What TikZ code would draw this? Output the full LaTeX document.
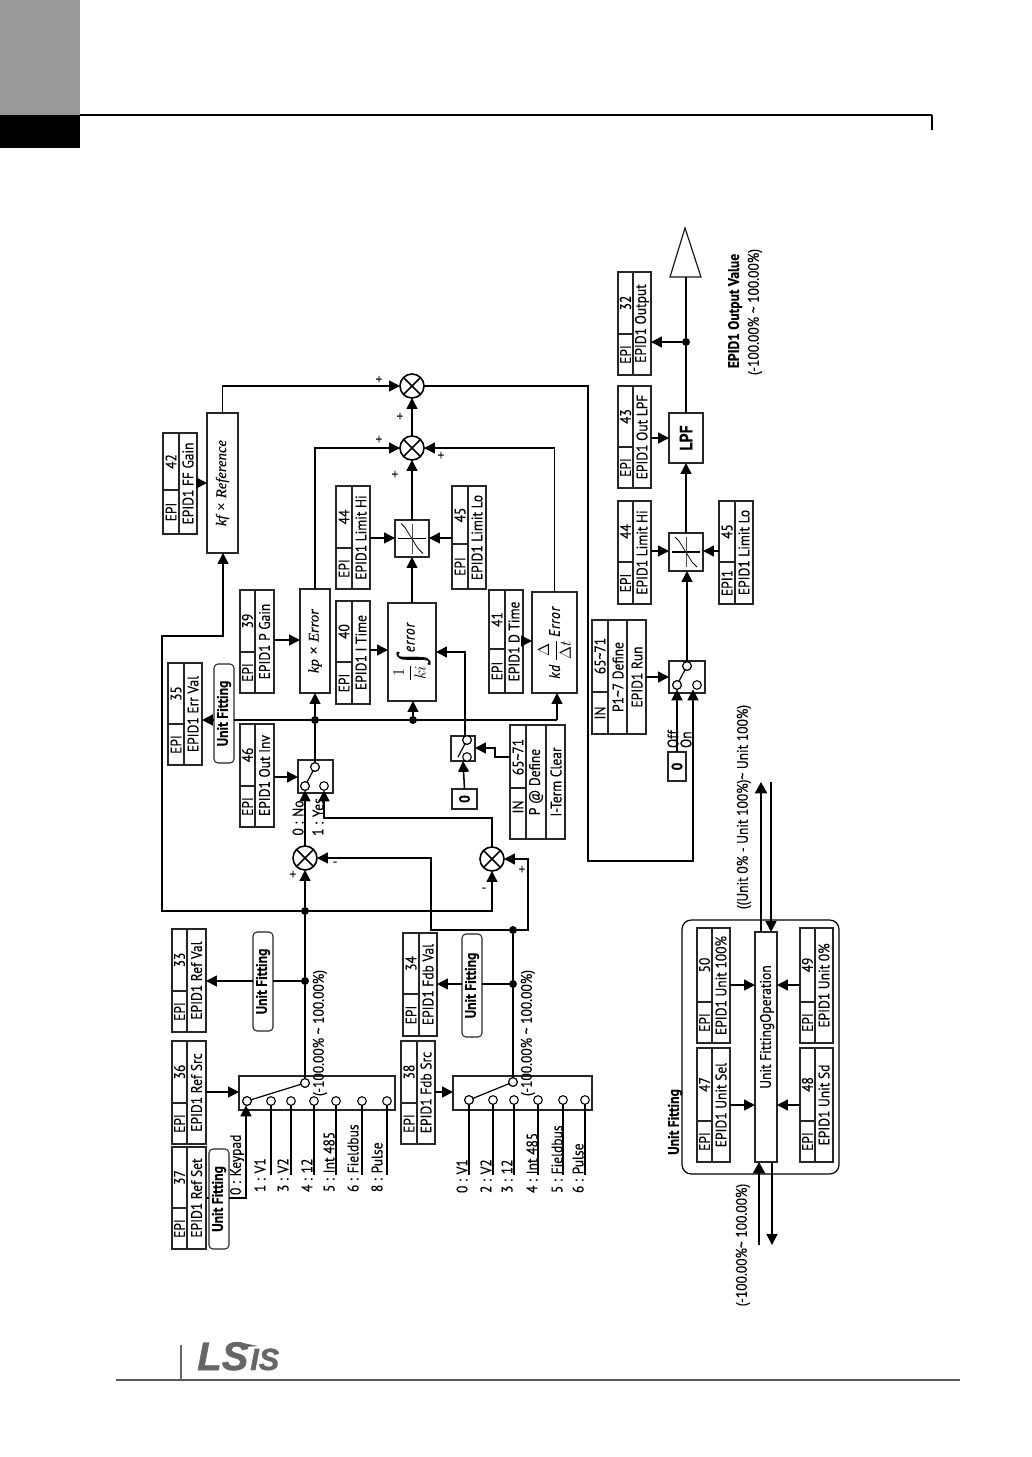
\documentclass[tikz,border=0pt]{standalone}
\usepackage{fontspec}
\usepackage{amsmath}
\usetikzlibrary{arrows.meta,calc}
\setmainfont{PT Sans}[FakeStretch=0.88,FakeBold=0.2]
\newfontfamily\serifit{Liberation Serif}[ItalicFont=* Italic,FakeBold=0.15]
\newfontfamily\logofont{Liberation Sans}[FakeBold=1.2]
\newcommand{\fs}{\fontsize{11.5}{13}\selectfont}
\newcommand{\tl}{\textasciitilde}
\tikzset{
  wire/.style={line width=1.15pt,line join=miter},
  thin wire/.style={line width=0.9pt},
  arr/.style={wire,-{Triangle[length=8.2pt,width=8.2pt]}},
  fat/.style={line width=1.7pt},
  fatarr/.style={fat,-{Triangle[length=8.5pt,width=9pt]}},
  boxline/.style={line width=0.8pt,black!85},
  vtext/.style={rotate=90,inner sep=0pt,outer sep=0pt,font=\fs},
  vbold/.style={vtext,font=\fs\bfseries},
  term/.style={circle,draw,fill=white,line width=0.8pt,minimum size=6.5pt,inner sep=0pt,outer sep=0pt},
  dotn/.style={circle,fill=black,minimum size=6pt,inner sep=0pt,outer sep=0pt},
  summer/.style={circle,draw,fill=white,line width=1.2pt,minimum size=18pt,inner sep=0pt,outer sep=0pt},
  sign/.style={inner sep=0pt,font=\fontsize{11}{11}\selectfont},
  fitbox/.style={boxline,rounded corners=3pt,fill=white},
}
% \rbox[opts]{name}{x0}{y0}{x1}{y1}{text}
\newcommand{\rbox}[7][]{%
  \node[draw,boxline,fill=white,inner sep=0pt,outer sep=0pt,minimum width={(#5-#3)*0.75pt},minimum height={(#6-#4)*0.75pt},#1] (#2) at ({(#3+#5)/2},{(#4+#6)/2}) {};
  \node[vtext] (#2-t) at (#2) {#7};
}
% \epitab{name}{x0}{y0}{x1}{y1}{xm}{yd}{code}{num}{label}
\newcommand{\epitab}[9]{%
  \rbox{#1}{#2}{#3}{#4}{#5}{}%
  \draw[boxline] (#6,#3) -- (#6,#5) (#2,#7) -- (#6,#7);
  \node[vtext] (#1-c) at ({(#2+#6)/2},{(#7+#5)/2}) {#8};
  \node[vtext] (#1-n) at ({(#2+#6)/2},{(#3+#7)/2}) {#9};
  \epilabel{#1}{#6}{#4}{#3}{#5}%
}
\newcommand{\epilabel}[5]{\def\lx{({(#2+#3)/2},{(#4+#5)/2})}\def\lname{#1-l}}
\newcommand{\epitext}[1]{\node[vtext] (\lname) at \lx {#1};}
% \intab{name}{x0}{y0}{x1}{y1}{xa}{xb}{yd}
\newcommand{\intab}[8]{%
  \rbox{#1}{#2}{#3}{#4}{#5}{}%
  \draw[boxline] (#6,#3) -- (#6,#5) (#7,#3) -- (#7,#5) (#2,#8) -- (#6,#8);
}
% \fitbox{name}{x0}{y0}{x1}{y1}
\newcommand{\fitbx}[5]{%
  \node[draw,fitbox,inner sep=0pt,outer sep=0pt,minimum width={(#4-#2)*0.75pt},minimum height={(#5-#3)*0.75pt}] (#1) at ({(#2+#4)/2},{(#3+#5)/2}) {};
  \node[vbold] (#1-t) at (#1) {Unit Fitting};
}
\newcommand{\limiter}[5]{%
  \rbox{#1}{#2}{#3}{#4}{#5}{}%
  \draw[line width=0.8pt] ($(#1)+(-14,0)$) -- ($(#1)+(14,0)$);
  \draw[line width=0.7pt,black!70] ($(#1)+(0,-15)$) -- ($(#1)+(0,15)$);
  \draw[line width=0.55pt] ($(#1)+(-11,-15)$) -- ($(#1)+(-7,-11)$) -- ($(#1)+(6,10)$) -- ($(#1)+(11,15)$);
}
\newcommand{\sumcross}[1]{%
  \draw[line width=1.2pt] (#1.45) -- (#1.225) (#1.135) -- (#1.315);
}
\begin{document}
\begin{tikzpicture}[x=0.75pt,y=-0.75pt]
\useasboundingbox (0,0) rectangle (1032,1457);
\fill[white] (0,0) rectangle (1032,1457);
% page furniture
\fill[black!40] (0,0) rectangle (80,115);
\fill[black] (0,115) rectangle (80,148);
\draw[line width=1.5pt] (80,115) -- (932,115);
\draw[line width=1.1pt] (932,115) -- (932,130);
\draw[line width=0.9pt,black!65] (116,1380) -- (960,1380);
\draw[line width=0.8pt,black!60] (181,1345) -- (181,1380);
\node[inner sep=0pt,anchor=base west,font=\logofont\bfseries\itshape\fontsize{30}{30}\selectfont,text=black!60] (logoa) at (197,1370) {LS};
\node[inner sep=0pt,anchor=base west,font=\logofont\bfseries\itshape\fontsize{23}{23}\selectfont,text=black!60] (logob) at (250,1370) {IS};
\fill[black!60] (238,1342) -- (258,1346) -- (246,1347) -- cycle;

% --- reference selector
\epitab{e33}{172}{929}{206}{1032}{187}{991}{EPI}{33}\epitext{EPID1 Ref Val}
\epitab{e36}{172}{1041}{206}{1144}{187}{1103}{EPI}{36}\epitext{EPID1 Ref Src}
\epitab{e37}{172}{1147}{206}{1249}{187}{1208}{EPI}{37}\epitext{EPID1 Ref Set}
\rbox{sw1}{239}{1076}{395}{1110}{}
\foreach \n/\x in {a/247,b/271,c/291,d/314,e/336,f/362,g/387}{
  \node[term] (t\n) at (\x,1101) {};
}
\foreach \n in {b,c,d,e,f,g}{ \draw[thin wire] (t\n.south) -- (t\n |- 0,1175); }
\node[term] (o1) at (305,1083) {};
\draw[thin wire] (ta) -- (o1);
\node[term] (ta) at (247,1101) {};
\node[term] (o1) at (305,1083) {};
\fitbx{u33}{253}{932}{273}{1031}
\fitbx{u37}{209}{1149}{229}{1249}
\coordinate (c37) at (246,1198);
\draw[wire] (e37.east |- c37) -- (u37.west |- c37);
\draw[arr] (u37.east |- c37) -- (c37) -- (ta.south -| c37);
\node[vtext,anchor=west] (l0) at (237,1195) {0 : Keypad};
\node[vtext,anchor=west] (l1) at (260,1192) {1 : V1};
\node[vtext,anchor=west] (l2) at (283,1192) {3 : V2};
\node[vtext,anchor=west] (l3) at (307,1192) {4 : 12};
\node[vtext,anchor=west] (l4) at (329,1192) {5 : Int 485};
\node[vtext,anchor=west] (l5) at (353,1192) {6 : Fieldbus};
\node[vtext,anchor=west] (l6) at (377,1192) {8 : Pulse};
\node[vtext] (r1) at (320,1033) {(-100.00\% \tl{} 100.00\%)};
\draw[arr] (e36.east |- 0,1092) -- (sw1.west |- 0,1092);
\node[dotn] (d1) at (305,981) {};
\node[dotn] (d2) at (305,911) {};
\draw[wire] (o1.north) -- (d1) -- (d2);
\draw[wire] (d1) -- (d1 -| u33.east);
\draw[arr] (d1 -| u33.west) -- (d1 -| e33.east);

% --- feedback selector
\epitab{e34}{403}{933}{437}{1036}{419}{994}{EPI}{34}\epitext{EPID1 Fdb Val}
\epitab{e38}{401}{1041}{435}{1144}{417}{1103}{EPI}{38}\epitext{EPID1 Fdb Src}
\rbox{sw2}{453}{1076}{592}{1110}{}
\foreach \n/\x in {a/469,b/493,c/514,d/538,e/563,f/585}{
  \node[term] (v\n) at (\x,1100) {};
}
\foreach \n in {a,b,c,d,e,f}{ \draw[thin wire] (v\n.south) -- (v\n |- 0,1175); }
\node[term] (o2) at (513,1082) {};
\draw[thin wire] (va) -- (o2);
\node[term] (va) at (469,1100) {};
\node[term] (o2) at (513,1082) {};
\node[vtext,anchor=west] (m0) at (462,1193) {0 : V1};
\node[vtext,anchor=west] (m1) at (486,1193) {2 : V2};
\node[vtext,anchor=west] (m2) at (507,1193) {3 : 12};
\node[vtext,anchor=west] (m3) at (532,1193) {4 : Int 485};
\node[vtext,anchor=west] (m4) at (557,1193) {5 : Fieldbus};
\node[vtext,anchor=west] (m5) at (578,1193) {6 : Pulse};
\node[vtext] (r2) at (528,1033) {(-100.00\% \tl{} 100.00\%)};
\fitbx{u34}{462}{934}{482}{1037}
\draw[arr] (e38.east |- 0,1092) -- (sw2.west |- 0,1092);
\node[dotn] (d3) at (513,984) {};
\node[dotn] (d4) at (513,930) {};
\draw[wire] (o2.north) -- (d3) -- (d4);
\draw[wire] (d3) -- (d3 -| u34.east);
\draw[arr] (d3 -| u34.west) -- (d3 -| e34.east);

% --- summers
\node[summer] (s1) at (305,858) {}; \sumcross{s1}
\node[summer] (s2) at (492,859) {}; \sumcross{s2}
\node[summer] (s3) at (412,386) {}; \sumcross{s3}
\node[summer] (s4) at (412,448) {}; \sumcross{s4}
\node[sign] (p1) at (293,875) {+};
\node[sign] (p2) at (335,864) {-};
\node[sign] (p3) at (484,890) {-};
\node[sign] (p4) at (522,870) {+};
\node[sign] (p5) at (379,380) {+};
\node[sign] (p6) at (400,417) {+};
\node[sign] (p7) at (379,440) {+};
\node[sign] (p8) at (441,456) {+};
\node[sign] (p9) at (395,475) {+};
\draw[arr] (d2) -- (s1.south);
\draw[arr] (d2) -| (s2.south);
\coordinate (c4) at (431,930);
\coordinate (c5) at (528,930);
\draw[arr] (d4) -- (c4) |- (s1.east);
\draw[arr] (d4) -- (c5) |- (s2.east);

% --- output inversion switch
\epitab{e46}{240}{724}{274}{827}{255}{786}{EPI}{46}\epitext{EPID1 Out Inv}
\rbox{sw3}{298}{760}{333}{793}{}
\node[term] (a3) at (315,767) {};
\node[term] (a1) at (305,786) {};
\node[term] (a2) at (324,786) {};
\draw[thin wire] (a1) -- (a3);
\node[term] at (a3) (a3b) {};
\node[term] at (a1) (a1b) {};
\node[vtext] (no) at (298,818) {0 : No};
\node[vtext] (yes) at (318,817) {1 : Yes};
\draw[arr] (e46.east |- 0,777) -- (sw3.west |- 0,777);
\draw[arr] (s1.north) -- (a1.south);
\coordinate (c6) at (324,818);
\draw[arr] (s2.north) |- (c6) -- (a2.south);

% --- PID blocks
\epitab{e35}{168}{663}{202}{765}{184}{724}{EPI}{35}\epitext{EPID1 Err Val}
\fitbx{u35}{214}{664}{234}{763}
\epitab{e39}{240}{590}{274}{693}{255}{652}{EPI}{39}\epitext{EPID1 P Gain}
\rbox{kp}{300}{589}{330}{693}{\fontsize{11}{14}\selectfont\serifit\itshape kp × Error}
\epitab{e40}{336}{601}{370}{704}{352}{662}{EPI}{40}\epitext{EPID1 I Time}
\rbox{ki}{388}{603}{436}{701}{\fontsize{11.5}{14}\selectfont$\displaystyle\frac{1}{ki}$\hspace{1pt}\raisebox{-5pt}{\fontsize{26}{26}\selectfont\serifit\upshape ∫}\hspace{1pt}$\mathit{error}$}
\epitab{e41}{489}{590}{523}{693}{505}{649}{EPI}{41}\epitext{EPID1 D Time}
\rbox{kd}{532}{592}{577}{693}{\fontsize{11.5}{14}\selectfont$\displaystyle \mathit{kd}\,\frac{\Delta}{\Delta t}\,\mathit{Error}$}
\epitab{e42}{163}{433}{197}{534}{179}{490}{EPI}{42}\epitext{EPID1 FF Gain}
\rbox{kf}{207}{413}{238}{553}{\fontsize{11}{14}\selectfont\serifit\itshape kf × Reference}
\epitab{e44}{336}{486}{370}{589}{352}{548}{EPI}{44}\epitext{EPID1 Limit Hi}
\epitab{e45}{452}{486}{486}{589}{468}{544}{EPI}{45}\epitext{EPID1 Limit Lo}
\limiter{lim}{395}{520}{429}{557}
\node[dotn] (d5) at (315,720) {};
\node[dotn] (d6) at (413,720) {};
\coordinate (c7) at (557,720);
\coordinate (c1) at (162,911);
\coordinate (c2) at (162,636);
\coordinate (c3) at (223,636);
\draw[wire] (a3.north) -- (d5);
\draw[arr] (d5) -- (kp.south -| d5);
\draw[wire] (u35.east |- d5) -- (d5) -- (d6) -- (c7);
\draw[arr] (c7) -- (kd.south -| c7);
\draw[arr] (d6) -- (ki.south -| d6);
\draw[arr] (u35.west |- d5) -- (e35.east |- d5);
\draw[arr] (d2) -- (c1) -- (c2) -- (c3) -- (kf.south -| c3);
\draw[arr] (e39.east |- 0,640) -- (kp.west |- 0,640);
\draw[arr] (e40.east |- 0,650) -- (ki.west |- 0,650);
\draw[arr] (e41.east |- 0,641) -- (kd.west |- 0,641);
\draw[arr] (e42.east |- 0,483) -- (kf.west |- 0,483);
\draw[arr] (e44.east |- 0,538) -- (lim.west |- 0,538);
\draw[arr] (e45.west |- 0,538) -- (lim.east |- 0,538);
\draw[arr] (ki.north) -- (lim.south);
\draw[arr] (lim.north) -- (s4.south);
\draw[arr] (s4.north) -- (s3.south);
\draw[arr] (kp.north) |- (s4.west);
\draw[arr] (kd.north) |- (s4.east);
\draw[arr] (kf.north) |- (s3.west);

% --- I-term clear
\rbox{sw4}{451}{736}{475}{761}{}
\node[term] (e1) at (467,740) {};
\node[term] (e2) at (467,757) {};
\coordinate (e0) at (458,757);
\draw[thin wire] (e0) -- (e1);
\node[term] at (e1) (e1b) {};
\rbox[line width=1pt]{z1}{452}{789}{477}{809}{\bfseries 0}
\draw[arr] (z1.north) -- (sw4.south);
\coordinate (c11) at (465,653);
\draw[arr] (sw4.north -| c11) |- (ki.east);
\intab{in1}{510}{725}{565}{839}{526}{546}{788}
\node[vtext] (in1a) at (518,807) {IN};
\node[vtext] (in1b) at (518,757) {65\tl71};
\node[vtext] (in1c) at (536,782) {P @ Define};
\node[vtext] (in1d) at (556,782) {I-Term Clear};
\coordinate (c12) at (495,757);
\coordinate (c13) at (495,748);
\draw[arr] (in1.west |- c12) -- (c12) -- (c13) -- (sw4.east |- c13);

% --- output chain
\rbox{sw5}{669}{661}{705}{693}{}
\node[term] (b3) at (687,666) {};
\node[term] (b1) at (677,685) {};
\node[term] (b2) at (697,685) {};
\draw[thin wire] (b1) -- (b3);
\node[term] at (b1) (b1c) {};
\node[term] at (b3) (b3c) {};
\rbox[line width=1pt]{z2}{668}{752}{686}{781}{\bfseries 0}
\node[vtext,anchor=west] (off) at (673,748) {Off};
\node[vtext,anchor=west] (on) at (686,748) {On};
\draw[arr] (z2.north -| b1) -- (b1.south);
\intab{in2}{592}{620}{646}{734}{608}{627}{692}
\node[vtext] (in2a) at (600,713) {IN};
\node[vtext] (in2b) at (600,656) {65\tl71};
\node[vtext] (in2c) at (618,677) {P1\tl7 Define};
\node[vtext] (in2d) at (637,677) {EPID1 Run};
\draw[arr] (in2.east |- 0,677) -- (sw5.west |- 0,677);
\coordinate (c8) at (588,386);
\coordinate (c9) at (588,861);
\coordinate (c10) at (693,861);
\draw[arr] (s3.east) -- (c8) -- (c9) -- (c10) -- (b2.south -| c10);
\limiter{lim2}{669}{533}{703}{571}
\rbox[line width=1pt]{lpf}{669}{413}{703}{463}{\fontsize{13.5}{14}\selectfont\bfseries LPF}
\epitab{e44b}{618}{501}{651}{604}{633}{562}{EPI}{44}\epitext{EPID1 Limit Hi}
\epitab{e45b}{719}{501}{753}{604}{735}{562}{EPI1}{45}\epitext{EPID1 Limit Lo}
\epitab{e43}{618}{386}{651}{488}{633}{447}{EPI}{43}\epitext{EPID1 Out LPF}
\epitab{e32}{618}{272}{651}{375}{633}{334}{EPI}{32}\epitext{EPID1 Output}
\node[dotn] (d7) at (686,342) {};
\coordinate (tri) at (686,277);
\draw[wire,black!90,line width=0.9pt,line join=miter] (tri) ++(-16,0) -- (685,228) -- (701,277) -- cycle;
\draw[arr] (b3.north) -- (lim2.south -| b3);
\draw[arr] (lim2.north) -- (lpf.south);
\draw[wire] (lpf.north) -- (d7) -- (tri);
\draw[arr] (d7) -- (d7 -| e32.east);
\draw[arr] (e43.east |- 0,438) -- (lpf.west |- 0,438);
\draw[arr] (e44b.east |- 0,551) -- (lim2.west |- 0,551);
\draw[arr] (e45b.west |- 0,551) -- (lim2.east |- 0,551);
\node[vbold] (ov1) at (735,311) {EPID1 Output Value};
\node[vtext] (ov2) at (755,312) {(-100.00\% \tl{} 100.00\%)};

% --- Unit fitting legend
\node[draw,line width=0.9pt,rounded corners=7pt,inner sep=0pt,outer sep=0pt,minimum width={157*0.75pt},minimum height={254*0.75pt}] (ugroup) at (760.5,1047) {};
\node[vbold] (ugroup-t) at (675,1122) {Unit Fitting};
\rbox{op}{755}{932}{777}{1162}{}
\node[vtext] (op-l) at (767,1027) {Unit FittingOperation};
\epitab{e50}{697}{928}{730}{1043}{712}{1002}{EPI}{50}\epitext{EPID1 Unit 100\%}
\epitab{e47}{697}{1048}{730}{1162}{712}{1121}{EPI}{47}\epitext{EPID1 Unit Sel}
\epitab{e49}{800}{928}{833}{1043}{815}{1002}{EPI}{49}\epitext{EPID1 Unit 0\%}
\epitab{e48}{800}{1048}{833}{1162}{815}{1121}{EPI}{48}\epitext{EPID1 Unit Sd}
\draw[arr] (e50.east |- 0,985) -- (op.west |- 0,985);
\draw[arr] (e47.east |- 0,1105) -- (op.west |- 0,1105);
\draw[arr] (e49.west |- 0,985) -- (op.east |- 0,985);
\draw[arr] (e48.west |- 0,1105) -- (op.east |- 0,1105);
\coordinate (f1) at (761,782);
\coordinate (f2) at (771,782);
\coordinate (f3) at (759,1245);
\coordinate (f4) at (772,1245);
\draw[fatarr] (op.north -| f1) -- (f1);
\draw[arr] (f2) -- (op.north -| f2);
\draw[fatarr] (f3) -- (op.south -| f3);
\draw[arr] (op.south -| f4) -- (f4);
\node[vtext] (t100) at (744,807) {((Unit 0\% - Unit 100\%)\tl{} Unit 100\%)};
\node[vtext] (t101) at (743,1245) {(-100.00\%\tl{} 100.00\%)};
\end{tikzpicture}
\end{document}
